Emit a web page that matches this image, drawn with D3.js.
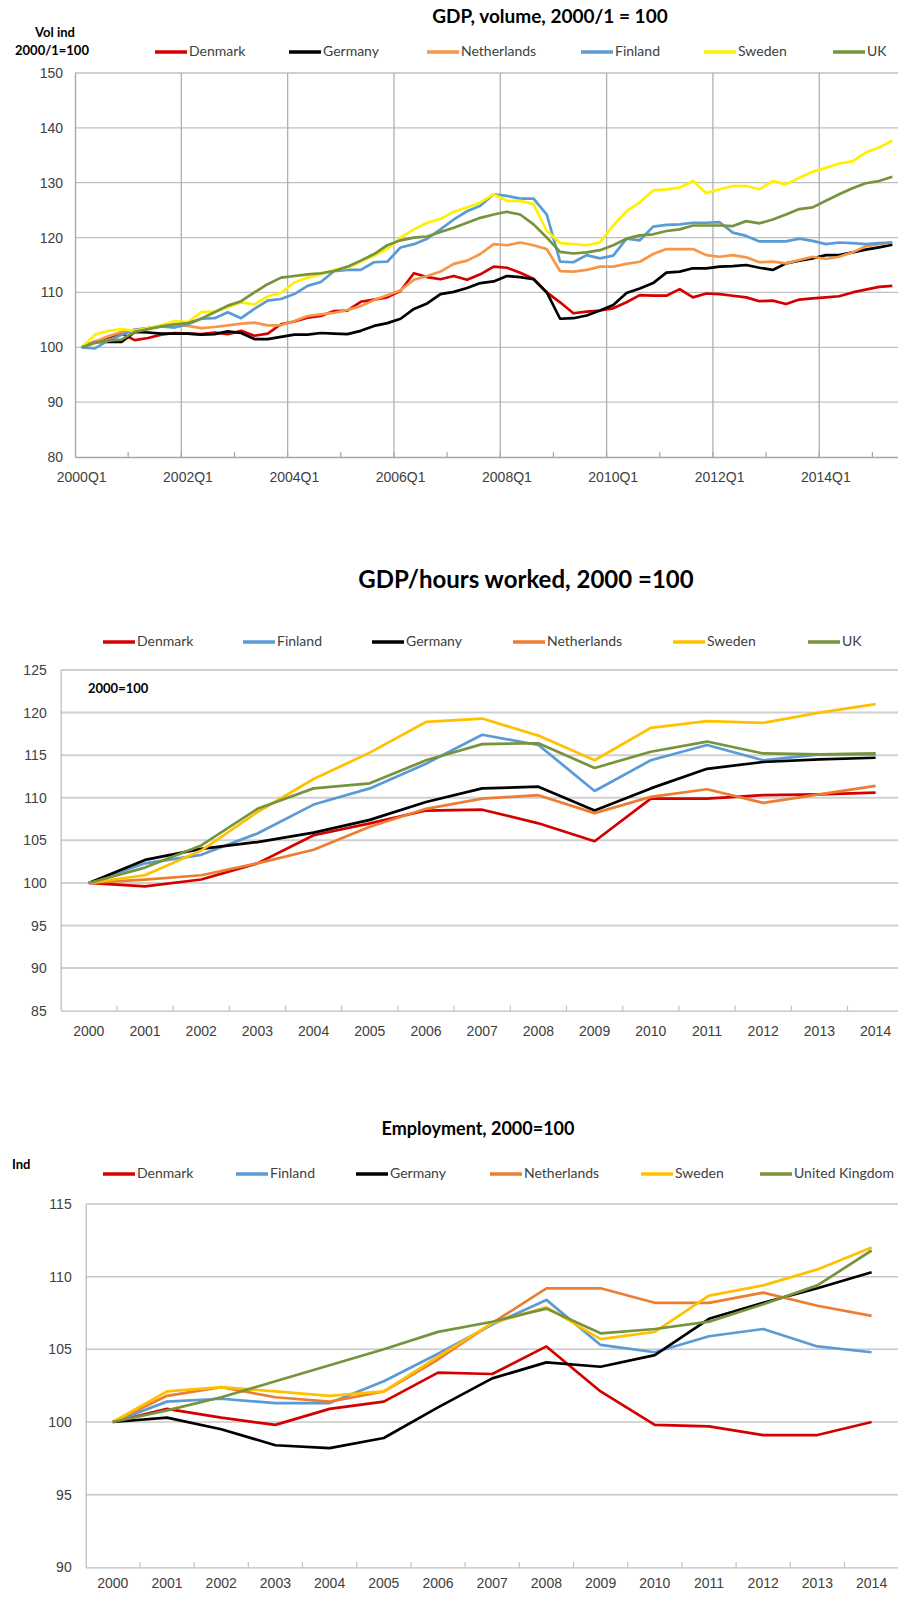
<!DOCTYPE html>
<html>
<head>
<meta charset="utf-8">
<script src="https://cdn.jsdelivr.net/npm/d3@7"></script>
<style>
  body { margin: 0; background: #fff; }
  svg { display: block; font-family: Lato, "Open Sans", sans-serif; }
</style>
</head>
<body>
<svg></svg>
<script>
const w = 898
const h = 1597
const svg = d3.select('svg').attr('width', w).attr('height', h)

// ---- chart 1: GDP volume, quarterly 2000Q1 - 2015Q2
const quarters = d3.range(62).map(i => `${2000 + Math.floor(i / 4)}Q${i % 4 + 1}`)
const gdpDenmark = [100, 101, 101.8, 102.5, 101.3, 101.7, 102.3, 102.6, 102.5, 102.4, 102.7, 102.4, 103, 102.1, 102.5, 104.2,
  104.7, 105.4, 105.7, 106.6, 106.7, 108.3, 108.7, 109.1, 110.3, 113.5, 112.8, 112.4, 113, 112.3, 113.3, 114.7,
  114.5, 113.6, 112.5, 110, 108.2, 106.2, 106.5, 106.7, 107.1, 108.2, 109.5, 109.4, 109.4, 110.6, 109.1, 109.8,
  109.7, 109.4, 109.1, 108.4, 108.5, 107.9, 108.7, 108.9, 109.1, 109.3, 110, 110.5, 111, 111.2]
const gdpGermany = [100, 101, 101, 101, 102.8, 102.7, 102.5, 102.5, 102.5, 102.3, 102.4, 102.9, 102.6, 101.5, 101.5, 101.9,
  102.3, 102.3, 102.6, 102.5, 102.4, 103, 103.9, 104.4, 105.2, 107, 108, 109.7, 110.1, 110.8, 111.7, 112,
  113, 112.8, 112.4, 110, 105.2, 105.3, 105.8, 106.7, 107.7, 109.9, 110.7, 111.7, 113.6, 113.8, 114.4, 114.4,
  114.7, 114.8, 115, 114.5, 114.1, 115.3, 115.8, 116.2, 116.8, 116.8, 117.3, 117.8, 118.2, 118.7]
const gdpNetherlands = [100, 101, 102, 102.8, 103.2, 103.5, 103.8, 104, 103.9, 103.5, 103.7, 104, 104.3, 104.5, 104, 104,
  104.8, 105.7, 106, 106.3, 106.8, 107.5, 108.6, 109.5, 110.4, 112.3, 113, 113.8, 115.2, 115.8, 117, 118.8,
  118.6, 119.1, 118.6, 117.9, 113.9, 113.8, 114.1, 114.7, 114.7, 115.2, 115.6, 117, 117.9, 117.9, 117.9, 116.8,
  116.5, 116.8, 116.4, 115.5, 115.6, 115.3, 115.9, 116.5, 116.1, 116.5, 117.3, 118.4, 118.8, 119.1]
const gdpFinland = [100, 99.8, 101.2, 102.3, 103.2, 103.5, 103.8, 103.6, 104.2, 105.2, 105.3, 106.4, 105.3, 107, 108.5, 108.8,
  109.7, 111.2, 111.9, 113.9, 114.1, 114.1, 115.5, 115.6, 118.2, 118.8, 119.8, 121.5, 123.3, 124.8, 125.8, 127.9,
  127.6, 127.1, 127.1, 124.2, 115.6, 115.5, 116.8, 116.2, 116.7, 119.8, 119.5, 122, 122.3, 122.4, 122.7, 122.7,
  122.8, 120.9, 120.3, 119.3, 119.3, 119.3, 119.8, 119.4, 118.8, 119.1, 119, 118.8, 119, 119.1]
const gdpSweden = [100, 102.3, 103, 103.3, 103, 103.5, 104, 104.8, 104.6, 106.4, 106.5, 107.3, 108.2, 107.8, 109.3, 109.9,
  111.8, 112.7, 113.3, 114.1, 114.5, 115.6, 116.7, 117.9, 120, 121.5, 122.7, 123.4, 124.7, 125.5, 126.4, 127.9,
  126.7, 126.7, 126.1, 121.2, 119, 118.8, 118.6, 119.1, 122.2, 124.8, 126.4, 128.6, 128.8, 129.1, 130.3, 128.1,
  128.8, 129.4, 129.4, 128.8, 130.3, 129.7, 130.9, 132, 132.7, 133.5, 133.9, 135.5, 136.4, 137.7]
const gdpUK = [100, 100.8, 101.2, 101.4, 102.8, 103.3, 103.8, 104.2, 104.4, 105.2, 106.4, 107.6, 108.4, 110, 111.5, 112.7,
  113, 113.3, 113.5, 113.9, 114.7, 115.8, 117, 118.6, 119.5, 120, 120.2, 121, 121.8, 122.7, 123.6, 124.2,
  124.7, 124.2, 122.4, 120, 117.4, 117.1, 117.3, 117.7, 118.6, 119.8, 120.4, 120.6, 121.2, 121.5, 122.2, 122.2,
  122.2, 122.1, 123, 122.6, 123.3, 124.2, 125.2, 125.5, 126.7, 127.9, 129, 129.9, 130.3, 131.1]

// ---- chart 2: GDP per hour worked, annual
const years = ['2000', '2001', '2002', '2003', '2004', '2005', '2006', '2007', '2008', '2009', '2010', '2011', '2012', '2013', '2014']
const prodDenmark = [100, 99.6, 100.4, 102.3, 105.6, 107, 108.5, 108.6, 107, 104.9, 109.9, 109.9, 110.3, 110.4, 110.6]
const prodFinland = [100, 102.3, 103.3, 105.8, 109.2, 111.1, 114, 117.4, 116.2, 110.8, 114.4, 116.2, 114.4, 115.1, 115.1]
const prodGermany = [100, 102.7, 104, 104.8, 105.9, 107.4, 109.5, 111.1, 111.3, 108.5, 111.1, 113.4, 114.2, 114.5, 114.7]
const prodNetherlands = [100, 100.4, 100.9, 102.3, 103.9, 106.6, 108.7, 109.9, 110.3, 108.2, 110.1, 111, 109.4, 110.4, 111.4]
const prodSweden = [100, 100.9, 103.8, 108.3, 112.2, 115.3, 118.9, 119.3, 117.3, 114.4, 118.2, 119, 118.8, 120, 121]
const prodUK = [100, 101.8, 104.4, 108.7, 111.1, 111.7, 114.4, 116.3, 116.4, 113.5, 115.4, 116.6, 115.2, 115.1, 115.2]

// ---- chart 3: employment, annual
const empDenmark = [100, 100.9, 100.3, 99.8, 100.9, 101.4, 103.4, 103.3, 105.2, 102.1, 99.8, 99.7, 99.1, 99.1, 100]
const empFinland = [100, 101.4, 101.6, 101.3, 101.3, 102.8, 104.7, 106.7, 108.4, 105.3, 104.8, 105.9, 106.4, 105.2, 104.8]
const empGermany = [100, 100.3, 99.5, 98.4, 98.2, 98.9, 101, 103, 104.1, 103.8, 104.6, 107.1, 108.2, 109.2, 110.3]
const empNetherlands = [100, 101.8, 102.4, 101.7, 101.4, 102.1, 104.3, 106.8, 109.2, 109.2, 108.2, 108.2, 108.9, 108, 107.3]
const empSweden = [100, 102.1, 102.4, 102.1, 101.8, 102.1, 104.5, 106.8, 107.9, 105.7, 106.2, 108.7, 109.4, 110.5, 112]
const empUK = [100, 100.8, 101.7, 102.8, 103.9, 105, 106.2, 106.9, 107.8, 106.1, 106.4, 106.9, 108.1, 109.4, 111.8]

const red = '#d40000'
const blue = '#5b9bd5'
const green = '#77933c'

const drawLegend = (items, y) => {
    const lg = svg.append('g')
    items.forEach(it => {
        lg.append('line')
            .attr('x1', it.x).attr('x2', it.x + 32)
            .attr('y1', y).attr('y2', y)
            .attr('stroke', it.color).attr('stroke-width', 3.5)
        lg.append('text')
            .attr('x', it.x + 34).attr('y', y)
            .attr('dominant-baseline', 'middle')
            .attr('font-size', 14).attr('fill', '#404040')
            .text(it.name)
    })
}

const drawPanel = (p) => {
    const x = d3.scaleBand().domain(p.cats).range([p.left, p.left + p.cats.length * p.band])
    const y = d3.scaleLinear().domain(p.yDomain).range([p.bottom, p.top])
    const yTicks = d3.range(p.yDomain[0], p.yDomain[1] + 0.01, p.yStep)
    const g = svg.append('g')

    // horizontal gridlines
    g.append('g').selectAll('line')
        .data(yTicks.slice(1))
        .join('line')
        .attr('x1', p.left).attr('x2', w)
        .attr('y1', d => y(d)).attr('y2', d => y(d))
        .attr('stroke', p.gridColor).attr('stroke-width', p.gridWidth)

    // vertical gridlines every n categories
    if (p.vGrid) {
        g.append('g').selectAll('line')
            .data(p.cats.filter((c, i) => i > 0 && i % p.vGrid === 0))
            .join('line')
            .attr('x1', d => x(d)).attr('x2', d => x(d))
            .attr('y1', p.top).attr('y2', p.bottom)
            .attr('stroke', p.vGridColor).attr('stroke-width', 1.3)
    }

    // y axis
    const yAxis = g.append('g')
        .attr('transform', `translate(${p.left},0)`)
        .call(d3.axisLeft(y).tickValues(yTicks).tickSize(0).tickPadding(p.yPad))
    yAxis.select('.domain').attr('stroke', p.axisColor).attr('stroke-width', 1.3)
    yAxis.selectAll('text').attr('font-size', 14).attr('fill', '#404040').attr('font-family', null)

    // x axis
    const xAxis = g.append('g')
        .attr('transform', `translate(0,${p.bottom})`)
        .call(d3.axisBottom(x)
            .tickValues(p.cats.filter((c, i) => i % p.labelEvery === 0))
            .tickSize(0).tickPadding(p.xPad))
    xAxis.select('.domain').attr('stroke', p.axisColor).attr('stroke-width', 1.3)
    xAxis.selectAll('text').attr('font-size', 14).attr('fill', '#404040').attr('font-family', null)

    // small tick marks on category boundaries
    g.append('g').selectAll('line')
        .data(p.cats.filter((c, i) => i > 0 && i % p.tickEvery === 0))
        .join('line')
        .attr('x1', d => x(d)).attr('x2', d => x(d))
        .attr('y1', p.bottom).attr('y2', p.bottom - 5)
        .attr('stroke', p.axisColor).attr('stroke-width', 1.2)

    const line = d3.line()
        .x((d, i) => x(p.cats[i]) + x.bandwidth() / 2)
        .y(d => y(d))

    p.series.forEach(s => {
        g.append('path')
            .datum(s.values)
            .attr('d', line)
            .attr('fill', 'none')
            .attr('stroke', s.color)
            .attr('stroke-width', p.lineWidth)
            .attr('stroke-linejoin', 'round')
    })

    drawLegend(p.series.map((s, i) => ({ name: s.name, color: s.color, x: p.legendX[i] })), p.legendY)
}

const addText = (x, y, txt, size, anchor, weight) => {
    svg.append('text')
        .attr('x', x).attr('y', y)
        .attr('text-anchor', anchor)
        .attr('dominant-baseline', 'middle')
        .attr('font-size', size)
        .attr('font-weight', weight)
        .attr('fill', '#000')
        .text(txt)
}

// top chart
addText(550, 18, 'GDP, volume, 2000/1 = 100', 19, 'middle', 'bold')
addText(55, 34, 'Vol ind', 13, 'middle', 'bold')
addText(52, 52, '2000/1=100', 13, 'middle', 'bold')
drawPanel({
    cats: quarters, band: 13.29, left: 75, top: 73, bottom: 457,
    yDomain: [80, 150], yStep: 10, yPad: 12, xPad: 15,
    gridColor: '#c0c0c0', gridWidth: 1.3, vGrid: 8, vGridColor: '#b0b0b0', axisColor: '#a6a6a6',
    tickEvery: 4, labelEvery: 8, lineWidth: 2.7,
    series: [
        { name: 'Denmark', color: red, values: gdpDenmark },
        { name: 'Germany', color: '#000000', values: gdpGermany },
        { name: 'Netherlands', color: '#f79646', values: gdpNetherlands },
        { name: 'Finland', color: blue, values: gdpFinland },
        { name: 'Sweden', color: '#fff000', values: gdpSweden },
        { name: 'UK', color: green, values: gdpUK }
    ],
    legendX: [155, 289, 427, 581, 704, 833], legendY: 52
})

// middle chart
addText(526, 582, 'GDP/hours worked, 2000 =100', 24, 'middle', 'bold')
addText(88, 690, '2000=100', 13, 'start', 'bold')
drawPanel({
    cats: years, band: 56.2, left: 60.7, top: 670, bottom: 1010.7,
    yDomain: [85, 125], yStep: 5, yPad: 14, xPad: 15,
    gridColor: '#d0d0d0', gridWidth: 2, axisColor: '#bfbfbf',
    tickEvery: 1, labelEvery: 1, lineWidth: 2.7,
    series: [
        { name: 'Denmark', color: red, values: prodDenmark },
        { name: 'Finland', color: blue, values: prodFinland },
        { name: 'Germany', color: '#000000', values: prodGermany },
        { name: 'Netherlands', color: '#ed7d31', values: prodNetherlands },
        { name: 'Sweden', color: '#ffc000', values: prodSweden },
        { name: 'UK', color: green, values: prodUK }
    ],
    legendX: [103, 243, 372, 513, 673, 808], legendY: 642
})

// bottom chart
addText(478, 1130, 'Employment, 2000=100', 18, 'middle', 'bold')
addText(12, 1166, 'Ind', 13, 'start', 'bold')
drawPanel({
    cats: years, band: 54.2, left: 85.7, top: 1204, bottom: 1567.3,
    yDomain: [90, 115], yStep: 5, yPad: 14, xPad: 11,
    gridColor: '#c8c8c8', gridWidth: 1.5, axisColor: '#bfbfbf',
    tickEvery: 1, labelEvery: 1, lineWidth: 2.7,
    series: [
        { name: 'Denmark', color: red, values: empDenmark },
        { name: 'Finland', color: blue, values: empFinland },
        { name: 'Germany', color: '#000000', values: empGermany },
        { name: 'Netherlands', color: '#ed7d31', values: empNetherlands },
        { name: 'Sweden', color: '#ffc000', values: empSweden },
        { name: 'United Kingdom', color: green, values: empUK }
    ],
    legendX: [103, 236, 356, 490, 641, 760], legendY: 1174
})
</script>
</body>
</html>
